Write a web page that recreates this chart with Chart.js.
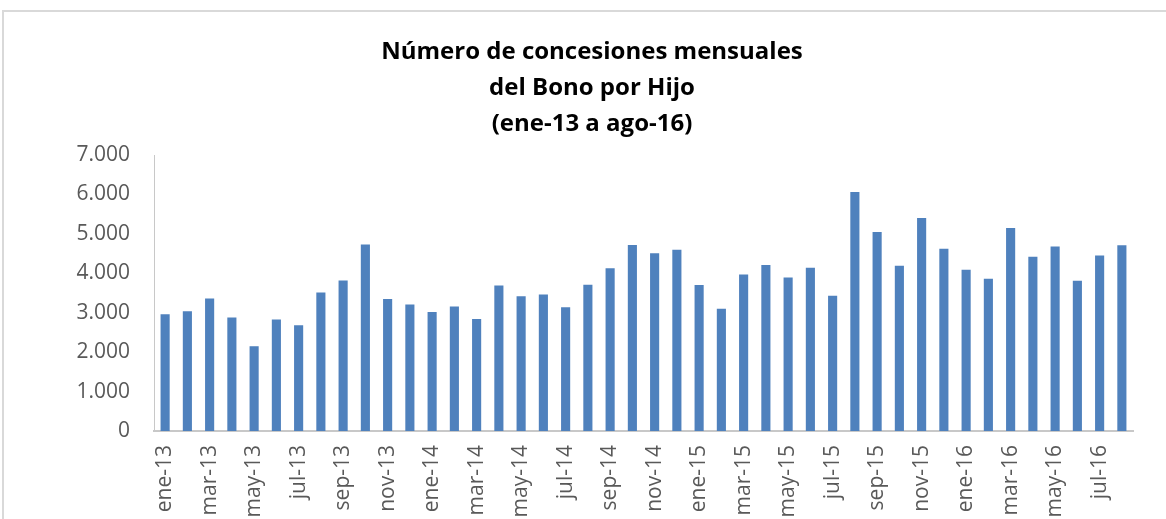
<!DOCTYPE html>
<html>
<head>
<meta charset="utf-8">
<script src="https://cdn.jsdelivr.net/npm/chart.js@4/dist/chart.umd.min.js"></script>
<style>
    html, body { margin: 0; padding: 0; background: #fff; overflow: hidden; width: 1166px; height: 519px; }
    #frame { position: absolute; left: 2px; top: 10px; width: 1176px; height: 560px; border: 2px solid #d9d9d9; }
    #chart { display: block; }
</style>
</head>
<body>
<div id="frame"><canvas id="chart" width="1176" height="560"></canvas></div>
<script>
// months and years of the series (ene-13 .. ago-16)
const months = ['ene','feb','mar','abr','may','jun','jul','ago','sep','oct','nov','dic'];
const years = ['13','14','15','16'];

const categories = [];
years.forEach(y => months.forEach(m => categories.push(m + '-' + y)));
categories.splice(44); // stops at ago-16

// concesiones mensuales
const concesiones = [
    2960, 3040, 3360, 2880, 2150, 2830, 2680, 3510, 3820, 4730, 3350, 3210,
    3020, 3160, 2840, 3690, 3420, 3460, 3140, 3710, 4130, 4720, 4510, 4600,
    3700, 3100, 3970, 4210, 3890, 4140, 3430, 6060, 5050, 4190, 5400, 4620,
    4090, 3860, 5150, 4420, 4680, 3810, 4450, 4710
];

const yTicks = [0, 1000, 2000, 3000, 4000, 5000, 6000, 7000];

const titleLines = ['Número de concesiones mensuales', 'del Bono por Hijo', '(ene-13 a ago-16)'];

function miles(v) {
    return String(v).replace(/\B(?=(\d{3})+(?!\d))/g, '.');
}

const tickFont = { family: 'Open Sans', size: 21 };

new Chart(document.getElementById('chart').getContext('2d'), {
    type: 'bar',
    data: {
        labels: categories,
        datasets: [{
            label: 'Concesiones',
            data: concesiones,
            backgroundColor: '#4f81bd',
            borderWidth: 0,
            barPercentage: 0.41,
            categoryPercentage: 1
        }]
    },
    options: {
        responsive: false,
        animation: false,
        // same padding both sides so the title stays centred in the frame
        layout: { padding: { left: 47, right: 47, top: 0, bottom: 0 } },
        plugins: {
            legend: { display: false },
            tooltip: { enabled: false },
            title: {
                display: true,
                text: titleLines,
                color: '#000',
                font: { family: 'Open Sans', size: 24, weight: 'bold', lineHeight: 1.5 },
                padding: { top: 22, bottom: 13 }
            }
        },
        scales: {
            x: {
                grid: { display: false, drawTicks: false },
                border: { color: '#c8c8c8', width: 2 },
                ticks: {
                    autoSkip: false,
                    minRotation: 90,
                    maxRotation: 90,
                    padding: 14,
                    color: '#595959',
                    font: tickFont,
                    callback: function(val, i) { return i % 2 === 0 ? categories[i] : ''; }
                },
                afterFit: function(scale) { scale.height = 141; }
            },
            y: {
                min: 0,
                max: 7000,
                afterBuildTicks: function(scale) { scale.ticks = yTicks.map(v => ({ value: v })); },
                grid: { display: false, drawTicks: false },
                border: { color: '#c8c8c8', width: 1 },
                ticks: {
                    padding: 24,
                    color: '#595959',
                    font: tickFont,
                    callback: function(v) { return miles(v); }
                },
                afterFit: function(scale) { scale.width = 103; }
            }
        }
    }
});
</script>
</body>
</html>
